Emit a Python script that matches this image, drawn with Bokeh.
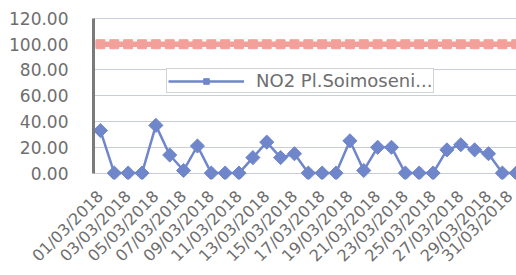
from bokeh.plotting import figure
from bokeh.models import Range1d, FixedTicker, NumeralTickFormatter, Legend, LegendItem
from bokeh.embed import file_html
from bokeh.resources import INLINE

dates = ["%02d/03/2018" % d for d in range(1, 32)]
no2 = [33, 0, 0, 0, 37, 14, 2, 21, 0, 0, 0, 12, 24, 12, 15, 0, 0, 0, 25, 2,
       20, 20, 0, 0, 0, 18, 22, 18, 15, 0, 0]
limit = [100] * 31
y_ticks = [0, 20, 40, 60, 80, 100, 120]

xs = list(range(len(dates)))

p = figure(width=516, height=275, output_backend="svg", toolbar_location=None,
           x_range=Range1d(-0.5, len(dates) - 0.98), y_range=Range1d(-5, 121.5),
           min_border_left=93, min_border_right=0, min_border_top=16, min_border_bottom=10)
p.outline_line_color = None
p.background_fill_color = "white"
p.border_fill_color = "white"

# grid
p.xgrid.grid_line_color = None
p.ygrid.grid_line_color = "#c9cdd9"
p.ygrid.grid_line_width = 1

# y axis
p.yaxis.ticker = FixedTicker(ticks=y_ticks)
p.yaxis.formatter = NumeralTickFormatter(format="0.00")
p.yaxis.bounds = (0, 120)
p.yaxis.axis_line_color = "#7a7a7a"
p.yaxis.axis_line_width = 3
p.yaxis.major_tick_line_color = None
p.yaxis.minor_tick_line_color = None
p.yaxis.major_label_standoff = 19
p.yaxis.major_label_text_font = "DejaVu Sans"
p.yaxis.major_label_text_font_size = "17px"
p.yaxis.major_label_text_color = "#6e6e6e"

# x axis
even = xs[::2]
p.xaxis.ticker = FixedTicker(ticks=even)
p.xaxis.major_label_overrides = {i: dates[i] for i in even}
p.xaxis.major_label_orientation = 0.785398
p.xaxis.axis_line_color = None
p.xaxis.major_tick_line_color = None
p.xaxis.minor_tick_line_color = None
p.xaxis.major_label_standoff = 8
p.xaxis.major_label_text_font = "DejaVu Sans"
p.xaxis.major_label_text_font_size = "16px"
p.xaxis.major_label_text_color = "#6e6e6e"

# limit line
lim_color = "#f4a09a"
p.line(xs, limit, line_color=lim_color, line_width=5.5)
p.scatter(xs, limit, marker="square", size=9, fill_color=lim_color, line_color=lim_color)

# NO2 series
blue = "#7086cb"
r_line = p.line(xs, no2, line_color=blue, line_width=2.5)
r_pts = p.scatter(xs, no2, marker="square", angle=0.785398, size=10,
                  fill_color=blue, line_color=blue)

legend = Legend(items=[LegendItem(label="NO2 Pl.Soimoseni...", renderers=[r_line, r_pts])],
                location=(73, 86), orientation="horizontal",
                padding=1, margin=0, glyph_width=76, glyph_height=14, label_standoff=12,
                label_text_font="DejaVu Sans", label_text_font_size="18px",
                label_text_line_height=0.8,
                label_text_color="#6e6e6e", label_height=14,
                border_line_color="#a8a8a8", border_line_width=1,
                background_fill_color="white", background_fill_alpha=1)
p.add_layout(legend)

open("out.html", "w").write(file_html(p, INLINE))
